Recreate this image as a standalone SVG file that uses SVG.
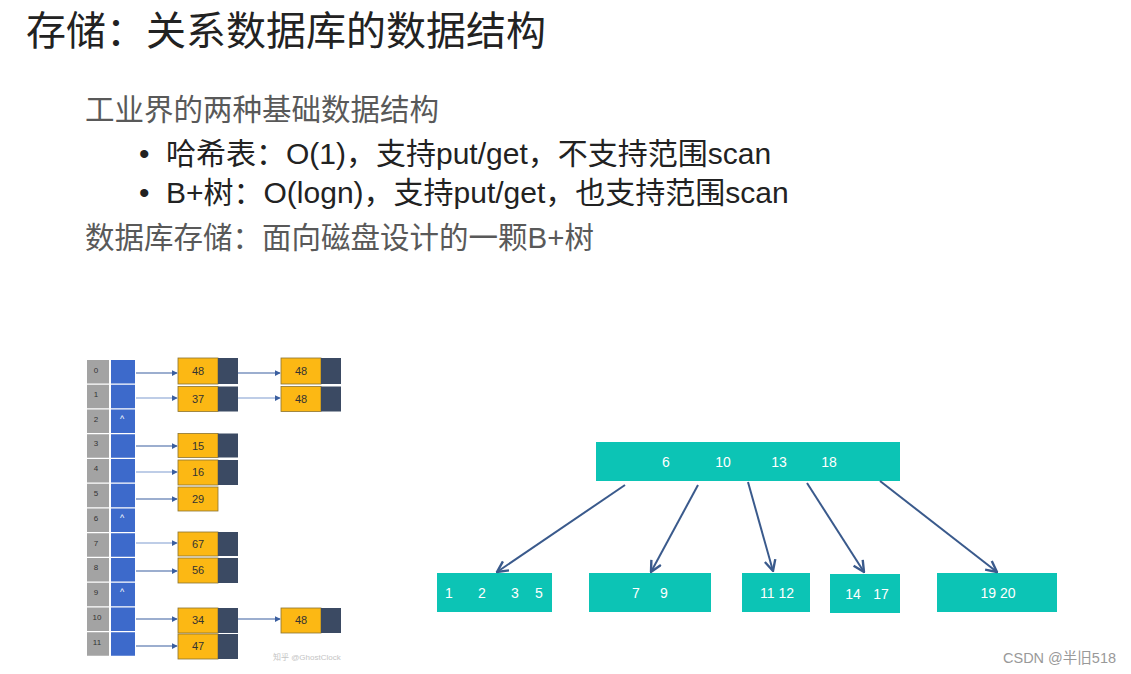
<svg xmlns="http://www.w3.org/2000/svg" width="1131" height="674" viewBox="0 0 1131 674">
<defs>
<marker id="ha" viewBox="0 0 8 8" refX="7" refY="4" markerWidth="6" markerHeight="6" orient="auto" markerUnits="userSpaceOnUse">
<path d="M0,0 L8,4 L0,8 z" fill="#3b5fa0"/>
</marker>
<marker id="ta" viewBox="0 0 12 12" refX="11" refY="6" markerWidth="13" markerHeight="13" orient="auto" markerUnits="userSpaceOnUse">
<path d="M1,1 L11,6 L1,11" fill="none" stroke="#3a5a8c" stroke-width="2.2"/>
</marker>
<style>
.t{font-family:"Liberation Sans","Noto Sans CJK SC",sans-serif}
.title{font-size:40px;fill:#222}
.sub{font-size:29.5px;fill:#595959}
.bul{font-size:30px;fill:#222}
.idx{fill:#a3a3a3}
.ptr{fill:#3d6acb}
.lab{font-size:8px;fill:#333;text-anchor:middle}
.nul{font-size:9px;fill:#fff;text-anchor:middle}
.or{fill:#fcb814;stroke:#8a7330;stroke-width:0.8}
.dk{fill:#3b4a63}
.num{font-size:11px;fill:#333;text-anchor:middle}
.hl{stroke:#3b5fa0;stroke-width:1.2;fill:none;marker-end:url(#ha)}
.hl2{stroke:#7f9bd0;stroke-width:1.2;fill:none;marker-end:url(#ha)}
.bn{fill:#0cc4b5}
.bt{font-size:14px;fill:#fff;text-anchor:middle}
.tl{stroke:#3a5a8c;stroke-width:2;fill:none;marker-end:url(#ta)}
</style>
</defs>
<rect width="1131" height="674" fill="#fff"/>

<text class="t title" x="26" y="45">存储：关系数据库的数据结构</text>
<text class="t sub" x="85" y="120">工业界的两种基础数据结构</text>
<text class="t bul" x="139" y="164">•</text>
<text class="t bul" x="166" y="164">哈希表：O(1)，支持put/get，不支持范围scan</text>
<text class="t bul" x="139" y="203">•</text>
<text class="t bul" x="166" y="203">B+树：O(logn)，支持put/get，也支持范围scan</text>
<text class="t sub" x="85" y="248">数据库存储：面向磁盘设计的一颗B+树</text>

<g id="hash-index">
<rect class="idx" x="87" y="360" width="22" height="23.5"/><text class="t lab" x="96" y="373">0</text>
<rect class="idx" x="87" y="384.75" width="22" height="23.5"/><text class="t lab" x="96" y="397">1</text>
<rect class="idx" x="87" y="409.5" width="22" height="23.5"/><text class="t lab" x="96" y="422">2</text>
<rect class="idx" x="87" y="434.25" width="22" height="23.5"/><text class="t lab" x="96" y="446">3</text>
<rect class="idx" x="87" y="459" width="22" height="23.5"/><text class="t lab" x="96" y="471">4</text>
<rect class="idx" x="87" y="483.75" width="22" height="23.5"/><text class="t lab" x="96" y="496">5</text>
<rect class="idx" x="87" y="508.5" width="22" height="23.5"/><text class="t lab" x="96" y="521">6</text>
<rect class="idx" x="87" y="533.25" width="22" height="23.5"/><text class="t lab" x="96" y="546">7</text>
<rect class="idx" x="87" y="558" width="22" height="23.5"/><text class="t lab" x="96" y="570">8</text>
<rect class="idx" x="87" y="582.75" width="22" height="23.5"/><text class="t lab" x="96" y="595">9</text>
<rect class="idx" x="87" y="607.5" width="22" height="23.5"/><text class="t lab" x="97" y="620">10</text>
<rect class="idx" x="87" y="632.25" width="22" height="23.5"/><text class="t lab" x="97" y="645">11</text>
</g>
<g id="hash-pointers">
<rect class="ptr" x="111" y="360" width="24" height="23.5"/>
<rect class="ptr" x="111" y="384.75" width="24" height="23.5"/>
<rect class="ptr" x="111" y="409.5" width="24" height="23.5"/><text class="t nul" x="122" y="422">^</text>
<rect class="ptr" x="111" y="434.25" width="24" height="23.5"/>
<rect class="ptr" x="111" y="459" width="24" height="23.5"/>
<rect class="ptr" x="111" y="483.75" width="24" height="23.5"/>
<rect class="ptr" x="111" y="508.5" width="24" height="23.5"/><text class="t nul" x="122" y="521">^</text>
<rect class="ptr" x="111" y="533.25" width="24" height="23.5"/>
<rect class="ptr" x="111" y="558" width="24" height="23.5"/>
<rect class="ptr" x="111" y="582.75" width="24" height="23.5"/><text class="t nul" x="122" y="595">^</text>
<rect class="ptr" x="111" y="607.5" width="24" height="23.5"/>
<rect class="ptr" x="111" y="632.25" width="24" height="23.5"/>
</g>

<g id="e0a"><rect class="or" x="178" y="358" width="40" height="26"/><rect class="dk" x="218" y="358" width="20" height="26"/><text class="t num" x="198" y="375">48</text></g>
<g id="e0b"><rect class="or" x="281" y="358" width="40" height="26"/><rect class="dk" x="321" y="358" width="20" height="26"/><text class="t num" x="301" y="375">48</text></g>
<g id="e1a"><rect class="or" x="178" y="386.5" width="40" height="25"/><rect class="dk" x="218" y="386.5" width="20" height="25"/><text class="t num" x="198" y="403">37</text></g>
<g id="e1b"><rect class="or" x="281" y="386.5" width="40" height="25"/><rect class="dk" x="321" y="386.5" width="20" height="25"/><text class="t num" x="301" y="403">48</text></g>
<g id="e3"><rect class="or" x="178" y="433.5" width="40" height="24"/><rect class="dk" x="218" y="433.5" width="20" height="24"/><text class="t num" x="198" y="450">15</text></g>
<g id="e4"><rect class="or" x="178" y="460" width="40" height="25"/><rect class="dk" x="218" y="460" width="20" height="25"/><text class="t num" x="198" y="476">16</text></g>
<g id="e5"><rect class="or" x="178" y="487" width="40" height="24"/><text class="t num" x="198" y="503">29</text></g>
<g id="e7"><rect class="or" x="178" y="532" width="40" height="24"/><rect class="dk" x="218" y="532" width="20" height="24"/><text class="t num" x="198" y="548">67</text></g>
<g id="e8"><rect class="or" x="178" y="558" width="40" height="25"/><rect class="dk" x="218" y="558" width="20" height="25"/><text class="t num" x="198" y="574">56</text></g>
<g id="e10a"><rect class="or" x="178" y="608" width="40" height="25"/><rect class="dk" x="218" y="608" width="20" height="25"/><text class="t num" x="198" y="624">34</text></g>
<g id="e10b"><rect class="or" x="281" y="608" width="40" height="25"/><rect class="dk" x="321" y="608" width="20" height="25"/><text class="t num" x="301" y="624">48</text></g>
<g id="e11"><rect class="or" x="178" y="634" width="40" height="25"/><rect class="dk" x="218" y="634" width="20" height="25"/><text class="t num" x="198" y="650">47</text></g>

<text class="t" x="273" y="660" font-size="8" fill="#c4c4c4">知乎 @GhostClock</text>

<g id="root"><rect class="bn" x="596" y="442" width="304" height="39"/>
<text class="t bt" x="666" y="467">6</text><text class="t bt" x="723" y="467">10</text><text class="t bt" x="779" y="467">13</text><text class="t bt" x="829" y="467">18</text></g>
<g id="leaf1"><rect class="bn" x="437" y="573" width="115" height="39"/>
<text class="t bt" x="449" y="598">1</text><text class="t bt" x="482" y="598">2</text><text class="t bt" x="515" y="598">3</text><text class="t bt" x="539" y="598">5</text></g>
<g id="leaf2"><rect class="bn" x="589" y="573" width="122" height="39"/>
<text class="t bt" x="636" y="598">7</text><text class="t bt" x="664" y="598">9</text></g>
<g id="leaf3"><rect class="bn" x="742" y="573" width="68" height="39"/>
<text class="t bt" x="777" y="598">11  12</text></g>
<g id="leaf4"><rect class="bn" x="830" y="574" width="70" height="39"/>
<text class="t bt" x="853" y="599">14</text><text class="t bt" x="881" y="599">17</text></g>
<g id="leaf5"><rect class="bn" x="937" y="573" width="120" height="39"/>
<text class="t bt" x="998" y="598">19  20</text></g>

<g id="connectors">
<line class="hl" x1="136" y1="373" x2="177" y2="373"/>
<line class="hl" x1="238" y1="373" x2="280" y2="373"/>
<line class="hl2" x1="136" y1="398" x2="177" y2="398"/>
<line class="hl2" x1="238" y1="398" x2="280" y2="398"/>
<line class="hl" x1="136" y1="446" x2="177" y2="446"/>
<line class="hl2" x1="136" y1="472" x2="177" y2="472"/>
<line class="hl" x1="136" y1="499" x2="177" y2="499"/>
<line class="hl2" x1="136" y1="543" x2="177" y2="543"/>
<line class="hl" x1="136" y1="571" x2="177" y2="571"/>
<line class="hl" x1="136" y1="619" x2="177" y2="619"/>
<line class="hl" x1="238" y1="619" x2="280" y2="619"/>
<line class="hl" x1="136" y1="646" x2="177" y2="646"/>
<line class="tl" x1="625" y1="485" x2="497" y2="572"/>
<line class="tl" x1="698" y1="485" x2="651" y2="572"/>
<line class="tl" x1="748" y1="482" x2="773" y2="571"/>
<line class="tl" x1="807" y1="483" x2="864" y2="572"/>
<line class="tl" x1="880" y1="481" x2="997" y2="572"/>
</g>

<text class="t" x="1003" y="663" font-size="14.5" fill="#999">CSDN @半旧518</text>
</svg>
